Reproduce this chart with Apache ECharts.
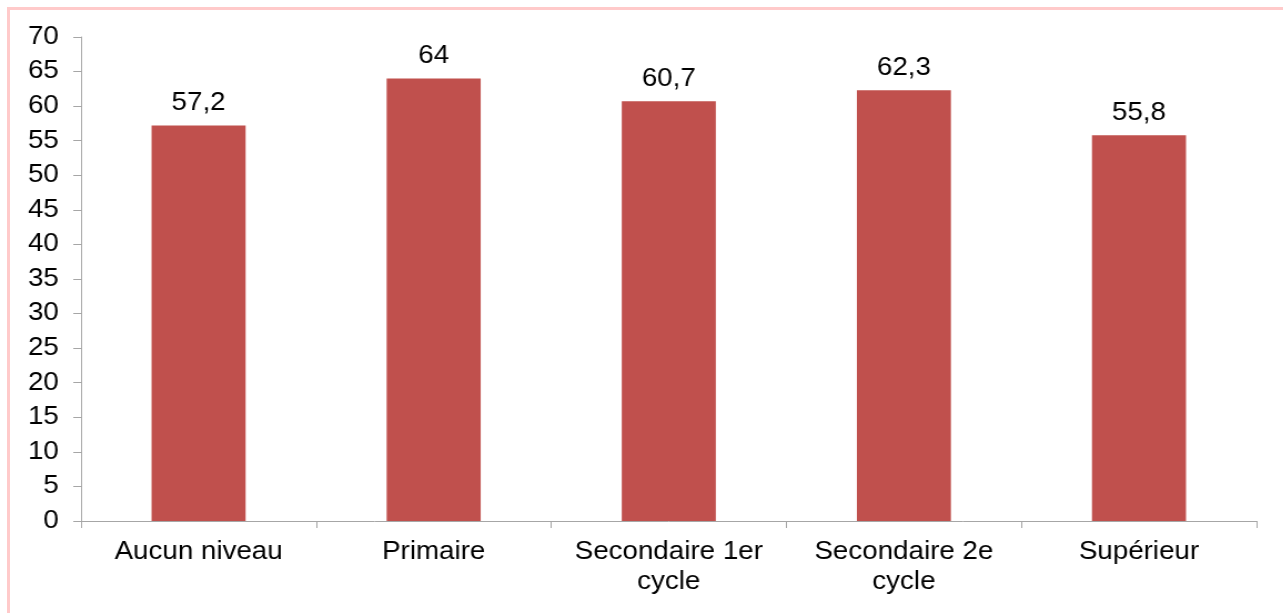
<!DOCTYPE html>
<html>
<head>
<meta charset="utf-8">
<script src="https://cdn.jsdelivr.net/npm/echarts@6/dist/echarts.min.js"></script>
<style>
  html, body { margin: 0; padding: 0; width: 1283px; height: 613px; overflow: hidden; background: #fff; }
  #frame { position: absolute; left: 7px; top: 7px; width: 1300px; height: 640px; border: 3px solid #ffcaca; box-sizing: border-box; }
  /* the original picture is stretched sideways, so the chart is drawn narrow and scaled */
  #main { position: absolute; left: 0; top: 0; width: 1156px; height: 613px; transform: scaleX(1.11); transform-origin: 0 0; }
</style>
</head>
<body>
<div id="frame"></div>
<div id="main"></div>
<script>
var categories = ['Aucun niveau', 'Primaire', 'Secondaire 1er\ncycle', 'Secondaire 2e\ncycle', 'Supérieur'];
var values = [57.2, 64, 60.7, 62.3, 55.8];
var yMin = 0, yMax = 70, yStep = 5;

var font = '"Liberation Sans", Arial, sans-serif';
var axisGrey = '#a6a6a6';

var myChart = echarts.init(document.getElementById('main'));
var option = {
  animation: false,
  grid: { left: 73, right: 24, top: 37, bottom: 92 },
  xAxis: {
    type: 'category',
    data: categories,
    axisLine: { lineStyle: { color: axisGrey, width: 1 } },
    axisTick: { show: true, interval: 0, length: 7, lineStyle: { color: axisGrey } },
    axisLabel: { interval: 0, color: '#000', fontFamily: font, fontSize: 25, lineHeight: 30, margin: 16 }
  },
  yAxis: {
    type: 'value',
    min: yMin,
    max: yMax,
    interval: yStep,
    axisLine: { show: true, lineStyle: { color: axisGrey, width: 1 } },
    axisTick: { show: true, length: 7, lineStyle: { color: axisGrey } },
    splitLine: { show: false },
    axisLabel: { color: '#000', fontFamily: font, fontSize: 25, margin: 20 }
  },
  series: [{
    type: 'bar',
    data: values,
    barCategoryGap: '60%',
    itemStyle: { color: '#c0504d' },
    label: {
      show: true,
      position: 'top',
      distance: 10,
      color: '#000',
      fontFamily: font,
      fontSize: 25,
      formatter: function (p) { return String(p.value).replace('.', ','); }
    }
  }]
};
myChart.setOption(option);
</script>
</body>
</html>
